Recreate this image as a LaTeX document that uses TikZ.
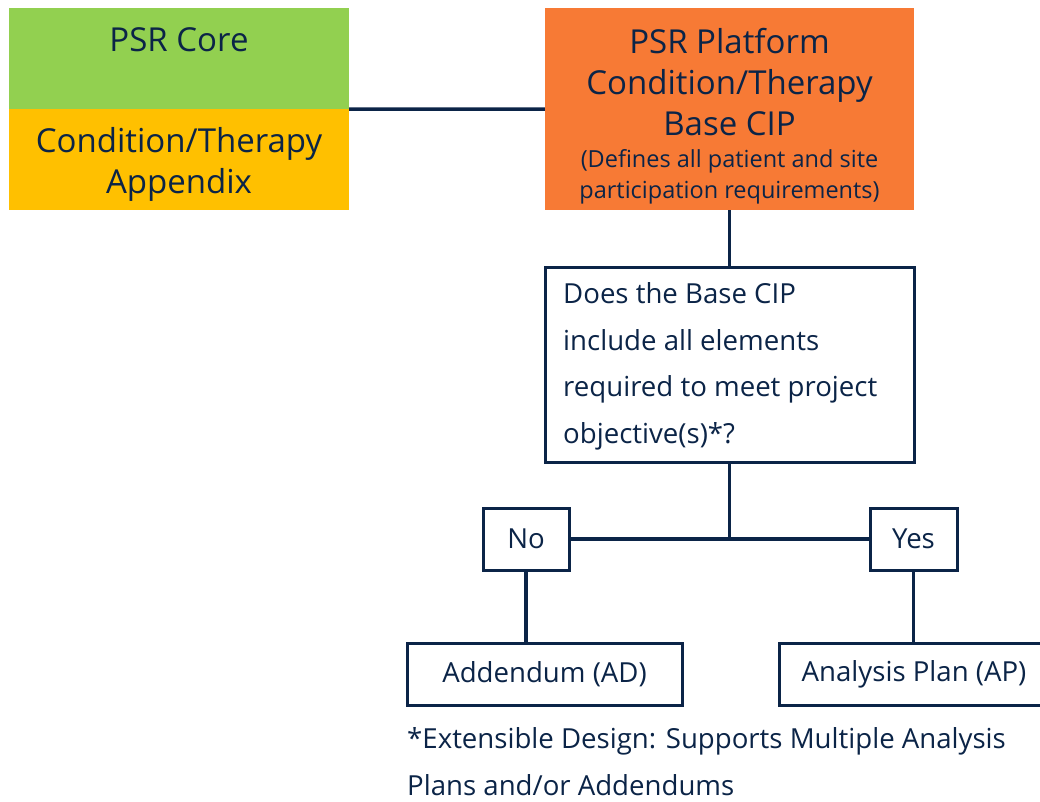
\documentclass[tikz,border=0pt]{standalone}
\usepackage{fontspec}
\setmainfont{Open Sans}
\definecolor{navy}{HTML}{0B2447}
\definecolor{coregreen}{HTML}{92D050}
\definecolor{appyellow}{HTML}{FFC000}
\definecolor{platorange}{HTML}{F77A35}
\tikzset{
  fillbox/.style={draw=none, inner sep=0pt, text=navy, align=center},
  outbox/.style={draw=navy, line width=3pt, inner sep=0pt, text=navy, fill=white},
  conn/.style={draw=navy, line width=3.5pt},
  big/.style={font=\fontsize{33}{41}\selectfont},
  mid/.style={font=\fontsize{27.6}{46.5}\selectfont},
  small/.style={font=\fontsize{23.5}{31}\selectfont},
}
\begin{document}
\begin{tikzpicture}[x=1pt,y=-1pt]
\useasboundingbox (0,0) rectangle (1040,801);
% left stack
\node[fillbox, fill=coregreen, minimum width=340pt, minimum height=101pt] (core) at (179,58.5) {};
\node[fillbox, big, anchor=base] (coretxt) at (179,51) {PSR Core};
\node[fillbox, fill=appyellow, minimum width=340pt, minimum height=101pt] (app) at (179,159.5) {};
\node[fillbox, big, anchor=base] (apptxt) at (179,193) {Condition/Therapy\\Appendix};
% orange
\node[fillbox, fill=platorange, minimum width=369pt, minimum height=202pt] (plat) at (729.5,109) {};
\node[fillbox, big, anchor=base] (plattxt) at (729.5,135) {PSR Platform\\Condition/Therapy\\Base CIP};
\node[fillbox, small, anchor=base] (platsub) at (729.5,198) {(Defines all patient and site\\participation requirements)};
% question
\node[outbox, minimum width=369pt, minimum height=195pt] (q) at (729.5,364.5) {};
\node[fillbox, mid, align=left, anchor=base west] (qtxt) at (563,443) {Does the Base CIP\\include all elements\\required to meet project\\objective(s)*?};
% yes / no
\node[outbox, mid, minimum width=86pt, minimum height=62pt] (no) at (526,539) {No};
\node[outbox, mid, minimum width=87pt, minimum height=62pt] (yes) at (913.5,539) {Yes};
\node[outbox, mid, minimum width=275pt, minimum height=62pt] (ad) at (544.5,674) {Addendum (AD)};
\node[outbox, minimum width=263pt, minimum height=62pt] (ap) at (910.5,674) {};
\node[fillbox, mid] (aptxt) at (914,674) {Analysis Plan (AP)};
\coordinate (j) at (729.5,539);
% connectors
\draw[conn] (core.south east) -- (plat.west);
\draw[conn] (plat.south) -- (q.north);
\draw[conn] (q.south) -- (j);
\draw[conn] (no.east) -- (yes.west);
\draw[conn] (no.south) -- (no.south |- ad.north);
\draw[conn] (yes.south) -- (yes.south |- ap.north);
% footnote
\node[fillbox, mid, align=left, anchor=base west] (foot) at (407,795) {*Extensible Design: Supports Multiple Analysis\\Plans and/or Addendums};
\end{tikzpicture}
\end{document}
